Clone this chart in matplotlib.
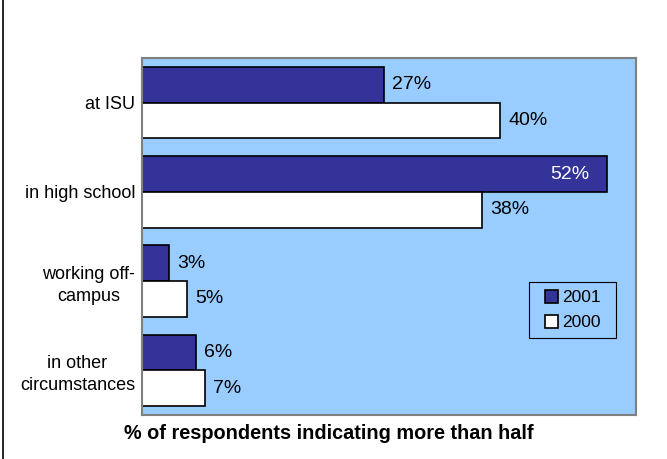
import matplotlib.pyplot as plt
import numpy as np
from matplotlib.lines import Line2D
from matplotlib.patches import Patch, Rectangle

plt.rcParams['font.family'] = ['Liberation Sans', 'DejaVu Sans']

categories = ['at ISU', 'in high school', 'working off-\ncampus', 'in other\ncircumstances']
pct_2001 = [27, 52, 3, 6]
pct_2000 = [40, 38, 5, 7]

fig = plt.figure(figsize=(6.67, 4.59), dpi=100)
ax = fig.add_axes([0.2129, 0.0959, 0.7406, 0.7778])
ax.set_facecolor('#99CCFF')

y = np.arange(len(categories))
h = 0.40
ax.barh(y - h / 2, pct_2001, height=h, color='#333399', edgecolor='black', linewidth=1.2, label='2001')
ax.barh(y + h / 2, pct_2000, height=h, color='white', edgecolor='black', linewidth=1.2, label='2000')

# value labels
for i, v in enumerate(pct_2001):
    if v > 45:
        ax.text(v - 2.0, i - h / 2, '%d%%' % v, ha='right', va='center', fontsize=14, color='white')
    else:
        ax.text(v + 0.9, i - h / 2, '%d%%' % v, ha='left', va='center', fontsize=14, color='black')
for i, v in enumerate(pct_2000):
    ax.text(v + 0.9, i + h / 2, '%d%%' % v, ha='left', va='center', fontsize=14, color='black')

ax.set_xlim(0, 55.2)
ax.set_ylim(len(categories) - 0.5, -0.5)
ax.set_xticks([])
ax.set_yticks(y)
ax.set_yticklabels(categories, fontsize=13, multialignment='center', linespacing=1.35)
ax.tick_params(axis='y', length=0, pad=5)
for s in ax.spines.values():
    s.set_color('#808080')
    s.set_linewidth(1.5)

fig.text(0.4925, 0.0545, '% of respondents indicating more than half', fontsize=14.3,
         fontweight='bold', ha='center', va='center')

# legend box
handles = [Patch(facecolor='#333399', edgecolor='black', linewidth=1.2),
           Patch(facecolor='white', edgecolor='black', linewidth=1.2)]
leg = fig.legend(handles, ['2001', '2000'], loc='center', bbox_to_anchor=(0.8583, 0.3246),
                 fontsize=12.5, frameon=False, handlelength=0.78, handleheight=0.78,
                 handletextpad=0.2, borderpad=0.0, labelspacing=0.55)
fig.add_artist(Rectangle((0.7931, 0.2636), 0.1304, 0.122, transform=fig.transFigure,
                         facecolor='none', edgecolor='black', linewidth=0.8, zorder=1))

# figure frame (left edge visible)
fig.add_artist(Line2D([0.004, 0.004], [0, 1], transform=fig.transFigure, color='black', linewidth=1.2))

fig.savefig('out.png', dpi=100)
